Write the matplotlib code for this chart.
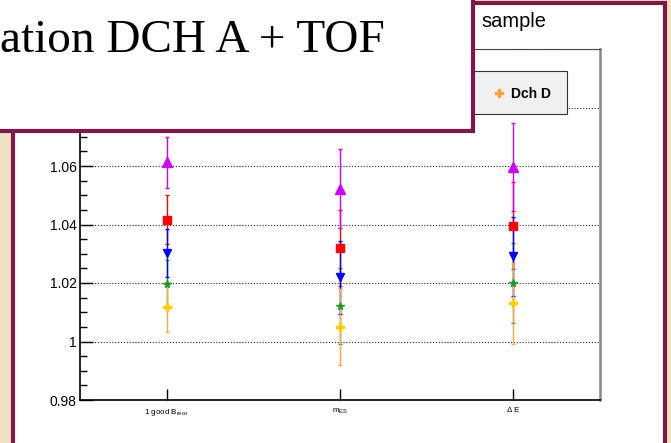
import matplotlib
matplotlib.use("Agg")
import matplotlib.pyplot as plt
import numpy as np
from matplotlib.patches import Rectangle
from matplotlib.lines import Line2D
from matplotlib.ticker import MultipleLocator, FuncFormatter

plt.rcParams['font.family'] = ['Liberation Sans', 'DejaVu Sans']
plt.rcParams['mathtext.fontset'] = 'custom'
plt.rcParams['mathtext.rm'] = 'Liberation Sans'
plt.rcParams['mathtext.it'] = 'Liberation Sans:italic'

# ---------------- data ----------------
categories = ["1 good B$_{\\mathrm{reco}}$", "m$_{\\mathrm{ES}}$", "Δ E"]

magenta_vals = [1.0612, 1.0523, 1.0597]
magenta_errs = [0.0087, 0.0135, 0.0150]
red_vals = [1.0416, 1.0321, 1.0396]
red_errs = [0.0084, 0.0130, 0.0148]
blue_vals = [1.0304, 1.0219, 1.0292]
blue_errs = [0.0082, 0.0124, 0.0135]
green_vals = [1.0198, 1.0122, 1.0200]
green_errs = [0.0082, 0.0130, 0.0138]
orange_vals = [1.0118, 1.0048, 1.0130]
orange_errs = [0.0084, 0.0130, 0.0137]

legend_label = "Dch D"
title_fragment = "ation DCH A + TOF"
plot_title_fragment = "sample"

# ---------------- figure ----------------
W, H = 671, 443
fig = plt.figure(figsize=(W / 100, H / 100), dpi=100)
fig.patch.set_facecolor('#eee2c3')
MAROON = '#7d1848'


def fx(x):
    return x / W


def fy(y):
    return 1 - y / H


# slide panel containing the plot
panel = Rectangle((fx(13), fy(470)), fx(665) - fx(13), fy(3.3) - fy(470),
                  transform=fig.transFigure, facecolor='white',
                  edgecolor=MAROON, lw=3, zorder=-2)
fig.add_artist(panel)

ax = fig.add_axes([fx(80), fy(400), fx(600) - fx(80), fy(49) - fy(400)])
ax.set_facecolor('white')
ax.set_xlim(0, 3)
ax.set_ylim(0.98, 1.10)

xs = np.arange(len(categories)) + 0.5

series = [
    (red_vals, red_errs, 's', '#ff0000', '#ff0000', 6.0),
    (magenta_vals, magenta_errs, '^', '#cc00ff', '#cc00ff', 6.5),
    (green_vals, green_errs, '*', '#1f9a1f', '#1f9a1f', 5.5),
    (blue_vals, blue_errs, 'v', '#0000ff', '#0000ff', 6.0),
    (orange_vals, orange_errs, 'P', '#ffcc00', '#ffa54f', 6.0),
]
for vals, errs, mk, mcol, ecol, ms in series:
    ax.errorbar(xs, vals, yerr=errs, fmt=mk, color=mcol, ecolor=ecol,
                mfc=mcol, mec=mcol, ms=ms, capsize=1.6, elinewidth=1.0,
                capthick=1.0, zorder=3)

ax.set_axisbelow(True)
ax.yaxis.grid(True, which='major', linestyle=(0, (1, 1.6)), color='#222222', lw=0.8)
ax.yaxis.set_major_locator(MultipleLocator(0.02))
ax.yaxis.set_minor_locator(MultipleLocator(0.005))
# labels above 1.07 sit under the slide's text box and are not visible
ax.yaxis.set_major_formatter(
    FuncFormatter(lambda v, p: f"{round(v, 4):g}" if v < 1.07 else ""))
ax.tick_params(axis='y', which='major', direction='in', length=9.5, width=1,
               pad=2.4, labelsize=10)
ax.tick_params(axis='y', which='minor', direction='in', length=5, width=1)

ax.set_xticks(xs)
ax.set_xticklabels(categories, fontsize=5.8)
ax.tick_params(axis='x', which='major', direction='in', length=8, width=1, pad=5)

for side in ['left', 'bottom']:
    ax.spines[side].set_color('black')
    ax.spines[side].set_linewidth(1.2)
ax.spines['top'].set_color('#444444')
ax.spines['top'].set_linewidth(0.8)
ax.spines['right'].set_color('#888888')
ax.spines['right'].set_linewidth(1.8)

# legend box (mostly hidden under the slide text box)
leg = Rectangle((fx(300), fy(114.3)), fx(566.7) - fx(300), fy(70.7) - fy(114.3),
                transform=fig.transFigure, facecolor='#f0f0f0',
                edgecolor='#333333', lw=0.8, zorder=1)
fig.add_artist(leg)
fig.add_artist(Line2D([fx(499)], [fy(93)], marker='P', ms=5.5, color='#f7a23c',
                      mec='#f7a23c', transform=fig.transFigure, zorder=2))
fig.text(fx(510.7), fy(97.7), legend_label, fontsize=10, fontweight='bold',
         va='baseline', ha='left', zorder=2)

fig.text(fx(481.7), fy(27.3), plot_title_fragment, fontsize=14.4,
         va='baseline', ha='left', zorder=1)

# slide title text box on top
tb = Rectangle((fx(-30), fy(130.5)), fx(472.7) - fx(-30), fy(-30) - fy(130.5),
               transform=fig.transFigure, facecolor='white',
               edgecolor=MAROON, lw=3, zorder=5)
fig.add_artist(tb)
fig.text(fx(0.5), fy(51.7), title_fragment, fontsize=34,
         family=['Liberation Serif', 'DejaVu Serif'], ha='left',
         va='baseline', zorder=6)

fig.savefig("out.png", dpi=100, facecolor=fig.get_facecolor())
